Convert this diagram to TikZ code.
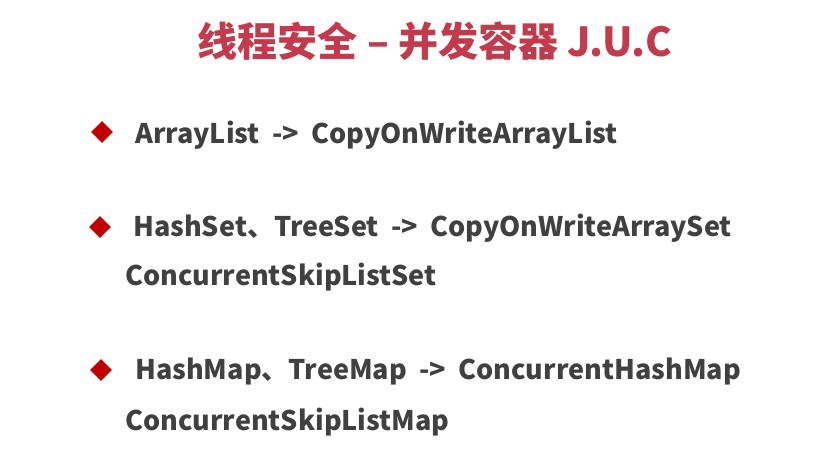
\documentclass[tikz,border=0pt]{standalone}
\usepackage{fontspec}
\setmainfont{Noto Sans CJK SC}[WordSpace=2]
\newfontfamily\titlefont{Noto Sans CJK SC}
\usepackage{xcolor}
\usetikzlibrary{positioning,shapes.geometric}
\definecolor{titlered}{HTML}{C23A4C}
\definecolor{textgray}{HTML}{404040}
\definecolor{bulletred}{HTML}{C00000}
\begin{document}
\begin{tikzpicture}[x=1pt,y=-1pt,
			title/.style={text=titlered, font=\titlefont\fontsize{40}{48}\selectfont\bfseries, inner sep=0pt},
			item/.style={text=textgray, font=\fontsize{27}{32}\selectfont\bfseries, anchor=base west, inner sep=0pt},
			bullet/.style={diamond, fill=bulletred, minimum size=22pt, inner sep=0pt}]
			\useasboundingbox[fill=white] (0,0) rectangle (838,452);
			\node[title, anchor=base] (title) at (435,57) {线程安全 – 并发容器 J.U.C};
			
			\node[bullet] (b1) at (102,132) {};
			\node[item] (list) at (135,143) {ArrayList -> CopyOnWriteArrayList};
			
			\node[bullet] (b2) at (100,227) {};
			\node[item] (set) at (133,236) {HashSet、TreeSet -> CopyOnWriteArraySet};
			\node[item] (setb) at (125,285) {ConcurrentSkipListSet};
			
			\node[bullet] (b3) at (101,370) {};
			\node[item] (map) at (135,379) {HashMap、TreeMap -> ConcurrentHashMap};
			\node[item] (mapb) at (125,430) {ConcurrentSkipListMap};
		\end{tikzpicture}
\end{document}
